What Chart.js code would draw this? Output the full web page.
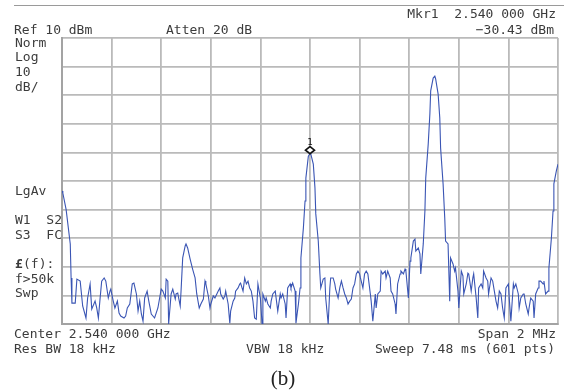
<!DOCTYPE html>
<html>
<head>
<meta charset="utf-8">
<script src="https://cdn.jsdelivr.net/npm/chart.js@4.4.1/dist/chart.umd.min.js"></script>
<style>
  html, body { margin: 0; padding: 0; background: #fff; }
  canvas { display: block; }
</style>
</head>
<body>
<canvas id="spectrum" width="564" height="392"></canvas>
<script>
// sweep point index (0..600 over the 2 MHz span)
const sweepPoints = [
  0, 1, 5, 10, 11, 12, 16, 18, 22, 25, 29, 31, 34, 36, 40, 42, 44, 46, 48, 51,
  53, 56, 58, 59, 62, 64, 67, 69, 71, 75, 77, 79, 82, 85, 87, 90, 92, 94, 96, 98,
  100, 103, 105, 108, 112, 116, 120, 122, 125, 126, 128, 129, 132, 134, 137, 138, 140, 143, 144, 146,
  149, 150, 152, 155, 158, 161, 163, 166, 168, 171, 173, 174, 177, 179, 180, 183, 185, 189, 191, 192,
  195, 197, 198, 201, 203, 204, 207, 209, 210, 213, 215, 216, 219, 221, 223, 225, 227, 229, 231, 233,
  235, 237, 240, 242, 243, 246, 247, 249, 252, 253, 255, 258, 259, 261, 264, 265, 267, 270, 271, 273,
  276, 277, 279, 282, 283, 286, 288, 289, 292, 294, 295, 298, 300, 301, 304, 306, 307, 310, 312, 313,
  316, 318, 319, 322, 324, 325, 328, 330, 331, 334, 336, 338, 340, 342, 344, 346, 348, 350, 352, 354,
  356, 358, 360, 361, 364, 366, 368, 370, 373, 374, 376, 379, 380, 382, 385, 386, 388, 391, 392, 394,
  397, 398, 400, 403, 404, 406, 409, 410, 413, 415, 416, 419, 421, 422, 425, 427, 428, 431, 433, 434,
  437, 439, 440, 443, 445, 446, 449, 451, 452, 455, 457, 458, 461, 463, 464, 467, 469, 470, 473, 475,
  476, 479, 480, 483, 485, 486, 489, 491, 492, 495, 497, 498, 501, 503, 504, 507, 509, 510, 513, 515,
  516, 519, 521, 523, 525, 527, 529, 531, 533, 535, 537, 540, 541, 543, 546, 547, 549, 552, 553, 555,
  558, 559, 561, 564, 565, 567, 570, 571, 573, 576, 577, 579, 582, 583, 585, 588, 589, 592, 594, 595,
  598, 600
];

// measured level, dBm
const levelDbm = [
  -43.5, -44.2, -50.0, -62.0, -73.9, -82.7, -82.7, -74.3, -75.0, -83.7, -87.9, -80.9, -76.0, -84.8, -82.0, -84.4, -87.9, -81.3, -75.0, -73.9,
  -75.0, -80.9, -78.5, -77.8, -82.0, -84.4, -82.0, -86.2, -87.2, -87.9, -87.2, -84.4, -83.0, -76.0, -75.7, -79.5, -85.5, -82.0, -86.5, -89.0,
  -80.9, -78.5, -82.0, -86.5, -87.9, -84.4, -77.8, -78.5, -80.9, -74.3, -75.0, -90.0, -79.5, -77.8, -81.3, -79.5, -79.2, -83.7, -78.5, -66.9,
  -62.7, -62.0, -63.4, -67.3, -70.8, -73.9, -79.5, -84.4, -83.0, -81.3, -75.0, -76.0, -80.2, -84.4, -83.0, -80.2, -80.9, -78.5, -77.4, -79.5,
  -81.3, -80.2, -78.5, -83.0, -89.7, -85.5, -82.0, -80.9, -78.5, -77.4, -76.0, -75.7, -78.5, -73.9, -76.0, -75.0, -77.4, -78.5, -82.0, -87.9,
  -88.3, -76.0, -81.0, -90.0, -79.5, -82.0, -80.9, -83.0, -84.4, -82.0, -79.5, -78.5, -80.9, -85.5, -79.5, -80.9, -79.5, -83.0, -87.9, -77.4,
  -76.0, -77.4, -75.7, -78.5, -89.7, -83.0, -77.4, -66.9, -56.4, -47.0, -39.0, -31.3, -30.4, -30.6, -34.1, -42.4, -51.5, -61.0, -72.5, -77.4,
  -74.3, -73.9, -80.9, -90.0, -77.4, -73.9, -73.9, -76.0, -77.8, -80.9, -77.4, -75.0, -77.4, -79.5, -80.9, -83.0, -82.0, -81.3, -77.4, -76.0,
  -72.5, -71.5, -72.5, -73.9, -77.4, -72.5, -71.5, -72.5, -79.5, -82.0, -89.0, -79.5, -84.4, -79.5, -78.5, -71.5, -72.5, -71.5, -73.9, -71.5,
  -73.9, -78.5, -79.5, -83.0, -86.5, -76.0, -72.5, -71.5, -72.5, -70.8, -71.5, -80.9, -68.0, -66.9, -61.0, -60.3, -64.5, -63.4, -65.5, -72.5,
  -62.0, -50.5, -39.0, -27.1, -16.6, -8.5, -4.0, -3.3, -4.3, -9.6, -18.0, -28.5, -41.0, -52.9, -61.0, -62.0, -82.0, -66.9, -69.0, -71.5,
  -70.4, -78.5, -84.4, -71.5, -73.2, -79.5, -76.0, -72.2, -72.5, -78.5, -73.9, -72.5, -80.9, -87.9, -77.4, -76.0, -77.4, -71.5, -73.9, -75.0,
  -79.5, -73.9, -75.0, -78.5, -82.0, -84.4, -78.5, -79.5, -84.4, -87.9, -77.4, -76.0, -80.9, -89.0, -76.0, -77.4, -76.0, -79.5, -84.4, -80.9,
  -79.5, -79.5, -83.0, -86.5, -84.4, -80.9, -82.0, -87.9, -79.5, -77.4, -75.0, -75.0, -76.0, -75.0, -79.5, -78.5, -70.4, -60.0, -50.5, -41.0,
  -36.5, -34.1
];

// marker 1
const markerPoint = 300;
const markerDbm = -30.43;

const refLevel = 10;
const divisions = 10;
const dbPerDiv = 10;

const traceData = sweepPoints.map((p, i) => ({ x: p, y: levelDbm[i] }));

const FONT = '13px "DejaVu Sans Mono", monospace';
const TXT = '#3c3c3c';

const annotations = {
  id: 'annotations',
  beforeDraw(chart) {
    const c = chart.ctx;
    c.save();
    c.fillStyle = '#fff';
    c.fillRect(0, 0, chart.width, chart.height);
    c.strokeStyle = '#9a9a9a';
    c.lineWidth = 1;
    c.beginPath();
    c.moveTo(14, 5.5);
    c.lineTo(chart.width, 5.5);
    c.stroke();
    c.restore();
  },
  afterDraw(chart) {
    const c = chart.ctx;
    const xs = chart.scales.x, ys = chart.scales.y;
    c.save();
    c.font = FONT;
    c.fillStyle = TXT;
    c.textBaseline = 'alphabetic';

    c.textAlign = 'right';
    c.fillText('Mkr1  2.540 000 GHz', 556, 18);
    c.fillText('\u221230.43 dBm', 554, 34);
    c.fillText('Span 2 MHz', 556, 338);
    c.fillText('Sweep 7.48 ms (601 pts)', 555, 353);

    c.textAlign = 'left';
    c.fillText('Ref 10 dBm', 14, 34);
    c.fillText('Atten 20 dB', 166, 34);
    c.fillText('Center 2.540 000 GHz', 14, 338);
    c.fillText('Res BW 18 kHz', 14, 353);
    c.fillText('VBW 18 kHz', 246, 353);

    const side = [
      ['Norm', 47], ['Log', 61], ['10', 76], ['dB/', 91],
      ['LgAv', 195], ['W1  S2', 224], ['S3  FC', 239],
      ['f>50k', 283], ['Swp', 297]
    ];
    side.forEach(([t, y]) => c.fillText(t, 15, y));
    c.font = 'bold 13px "DejaVu Sans Mono", monospace';
    c.fillText('\u00a3', 15, 268);
    c.font = FONT;
    c.fillText('(f):', 23, 268);

    // marker diamond
    const mx = xs.getPixelForValue(markerPoint);
    const my = ys.getPixelForValue(markerDbm) - 3.5;
    c.beginPath();
    c.moveTo(mx - 4.5, my);
    c.lineTo(mx, my - 3.5);
    c.lineTo(mx + 4.5, my);
    c.lineTo(mx, my + 3.5);
    c.closePath();
    c.fillStyle = '#fff';
    c.fill();
    c.strokeStyle = '#111';
    c.lineWidth = 1.6;
    c.stroke();
    c.fillStyle = '#111';
    c.font = '9px "DejaVu Sans Mono", monospace';
    c.textAlign = 'center';
    c.fillText('1', mx, my - 5);

    c.fillStyle = '#222';
    c.font = '21px "Liberation Serif", "DejaVu Serif", serif';
    c.textAlign = 'center';
    c.fillText('(b)', 283, 385);
    c.restore();
  }
};

new Chart(document.getElementById('spectrum'), {
  type: 'line',
  data: {
    datasets: [{
      data: traceData,
      borderColor: '#3a55b4',
      borderWidth: 1.1,
      pointRadius: 0,
      tension: 0,
      fill: false
    }]
  },
  options: {
    responsive: false,
    animation: false,
    devicePixelRatio: 1,
    layout: { padding: { left: 62, right: 6, top: 38, bottom: 68 } },
    plugins: { legend: { display: false }, tooltip: { enabled: false } },
    scales: {
      x: {
        type: 'linear',
        min: 0,
        max: 600,
        ticks: { display: false, stepSize: 60 },
        grid: { color: '#bababa', lineWidth: 1.8, drawTicks: false },
        border: { display: true, color: '#a3a3a3', width: 2 }
      },
      y: {
        min: refLevel - divisions * dbPerDiv,
        max: refLevel,
        ticks: { display: false, stepSize: dbPerDiv },
        grid: { color: '#bababa', lineWidth: 1.8, drawTicks: false },
        border: { display: true, color: '#a3a3a3', width: 2 }
      }
    }
  },
  plugins: [annotations]
});
</script>
</body>
</html>
